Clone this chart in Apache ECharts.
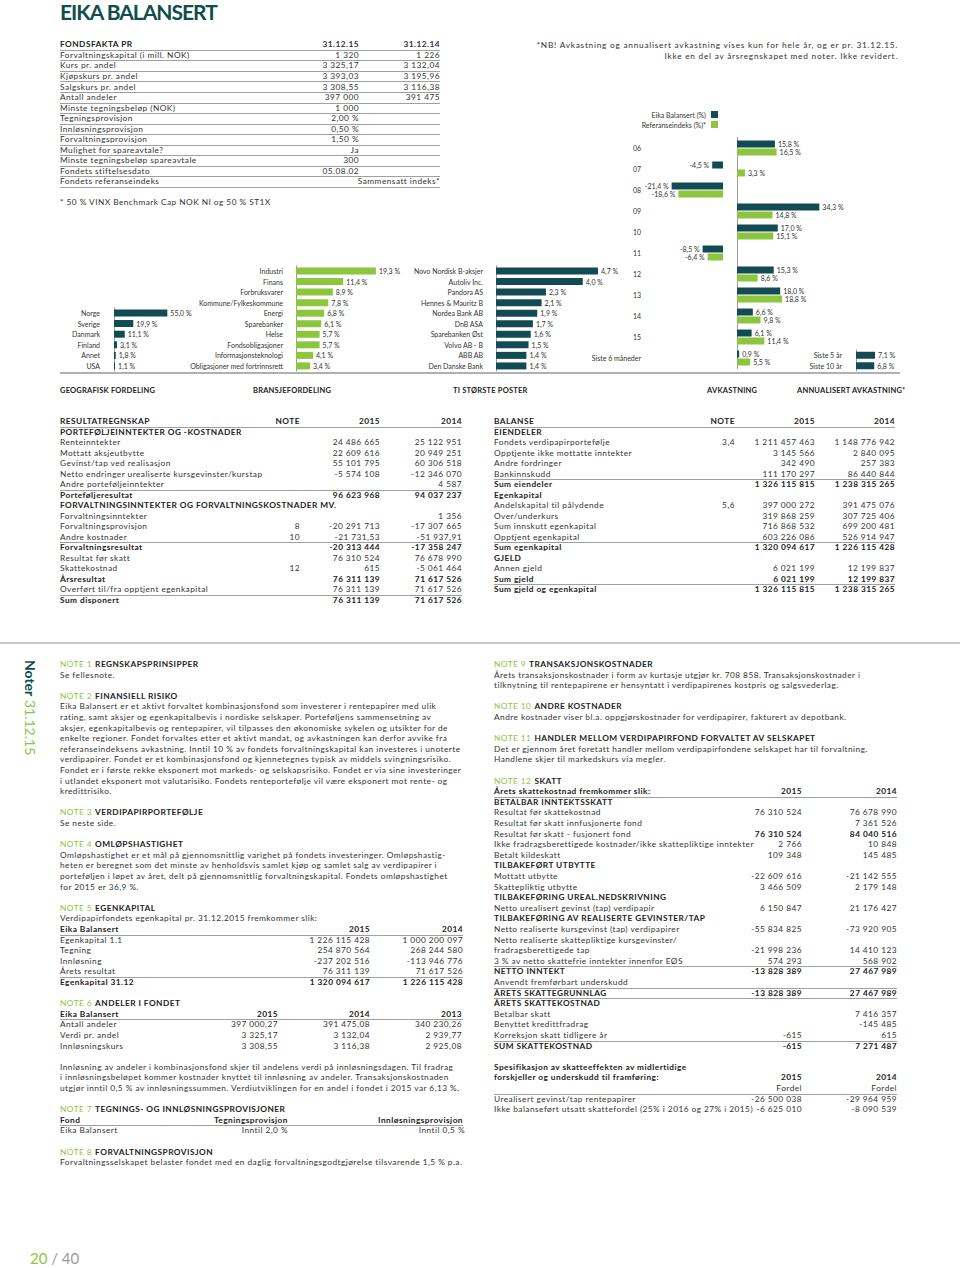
<!DOCTYPE html>
<html>
<head>
<meta charset="utf-8">
<script src="https://cdn.jsdelivr.net/npm/echarts/dist/echarts.min.js"></script>
<style>
  html, body { margin: 0; padding: 0; background: #fff; }
  #page { position: relative; width: 960px; height: 1268px; background: #fff; font-family: Lato, "Open Sans", sans-serif; color: #333; overflow: hidden; }
  #chart { position: absolute; left: 0; top: 0; width: 960px; height: 400px; }
  .t { position: absolute; white-space: nowrap; line-height: 10px; font-size: 8.3px; letter-spacing: 0.46px; }
  .ln { position: absolute; height: 1px; background: #a3a3a3; }
</style>
</head>
<body>
<div id="page">
  <div id="chart"></div>
</div>
<script>
  // ---- chart data ----
  const geoCats = ['Norge', 'Sverige', 'Danmark', 'Finland', 'Annet', 'USA'];
  const geoVals = [55.0, 19.9, 11.1, 3.1, 1.8, 1.1];

  const sectorCats = ['Industri', 'Finans', 'Forbruksvarer', 'Kommune/Fylkeskommune', 'Energi', 'Sparebanker',
    'Helse', 'Fondsobligasjoner', 'Informasjonsteknologi', 'Obligasjoner med fortrinnsrett'];
  const sectorVals = [19.3, 11.4, 8.9, 7.8, 6.8, 6.1, 5.7, 5.7, 4.1, 3.4];

  const topCats = ['Novo Nordisk B-aksjer', 'Autoliv Inc.', 'Pandora AS', 'Hennes & Mauritz B', 'Nordea Bank AB',
    'DnB ASA', 'Sparebanken Øst', 'Volvo AB - B', 'ABB AB', 'Den Danske Bank'];
  const topVals = [4.7, 4.0, 2.3, 2.1, 1.9, 1.7, 1.6, 1.5, 1.4, 1.4];

  const yearCats = ['06', '07', '08', '09', '10', '11', '12', '13', '14', '15', 'Siste 6 måneder'];
  const fundReturn = [15.8, -4.5, -21.4, 34.3, 17.0, -8.5, 15.3, 18.0, 6.6, 6.1, 0.9];
  const indexReturn = [16.5, 3.3, -18.6, 14.8, 15.1, -6.4, 8.6, 18.8, 9.8, 11.4, 5.5];

  const annualCats = ['Siste 5 år', 'Siste 10 år'];
  const annualVals = [7.1, 6.8];

  const DARK = '#134b55';
  const GREEN = '#8cc63f';
  const FONT = 'Lato';

  // ---- tables / text ----
  const factRows = [
    ['b', 'FONDSFAKTA PR', '31.12.15', '31.12.14'],
    ['', 'Forvaltningskapital (i mill. NOK)', '1 320', '1 226'],
    ['', 'Kurs pr. andel', '3 325,17', '3 132,04'],
    ['', 'Kjøpskurs pr. andel', '3 393,03', '3 195,96'],
    ['', 'Salgskurs pr. andel', '3 308,55', '3 116,38'],
    ['', 'Antall andeler', '397 000', '391 475'],
    ['', 'Minste tegningsbeløp (NOK)', '1 000', ''],
    ['', 'Tegningsprovisjon', '2,00 %', ''],
    ['', 'Innløsningsprovisjon', '0,50 %', ''],
    ['', 'Forvaltningsprovisjon', '1,50 %', ''],
    ['', 'Mulighet for spareavtale?', 'Ja', ''],
    ['', 'Minste tegningsbeløp spareavtale', '300', ''],
    ['', 'Fondets stiftelsesdato', '05.08.02', ''],
    ['', 'Fondets referanseindeks', '', 'Sammensatt indeks*']
  ];

  const resultRows = [
    ['bu', 'RESULTATREGNSKAP', 'NOTE', '2015', '2014'],
    ['b', 'PORTEFØLJEINNTEKTER OG -KOSTNADER', '', '', ''],
    ['', 'Renteinntekter', '', '24 486 665', '25 122 951'],
    ['', 'Mottatt aksjeutbytte', '', '22 609 616', '20 949 251'],
    ['', 'Gevinst/tap ved realisasjon', '', '55 101 795', '60 306 518'],
    ['', 'Netto endringer urealiserte kursgevinster/kurstap', '', '-5 574 108', '-12 346 070'],
    ['', 'Andre porteføljeinntekter', '', '', '4 587'],
    ['bo', 'Porteføljeresultat', '', '96 623 968', '94 037 237'],
    ['b', 'FORVALTNINGSINNTEKTER OG FORVALTNINGSKOSTNADER MV.', '', '', ''],
    ['', 'Forvaltningsinntekter', '', '', '1 356'],
    ['', 'Forvaltningsprovisjon', '8', '-20 291 713', '-17 307 665'],
    ['', 'Andre kostnader', '10', '-21 731,53', '-51 937,91'],
    ['bo', 'Forvaltningsresultat', '', '-20 313 444', '-17 358 247'],
    ['', 'Resultat før skatt', '', '76 310 524', '76 678 990'],
    ['', 'Skattekostnad', '12', '615', '-5 061 464'],
    ['b', 'Årsresultat', '', '76 311 139', '71 617 526'],
    ['', 'Overført til/fra opptjent egenkapital', '', '76 311 139', '71 617 526'],
    ['bo', 'Sum disponert', '', '76 311 139', '71 617 526']
  ];

  const balanceRows = [
    ['bu', 'BALANSE', 'NOTE', '2015', '2014'],
    ['b', 'EIENDELER', '', '', ''],
    ['', 'Fondets verdipapirportefølje', '3,4', '1 211 457 463', '1 148 776 942'],
    ['', 'Opptjente ikke mottatte inntekter', '', '3 145 566', '2 840 095'],
    ['', 'Andre fordringer', '', '342 490', '257 383'],
    ['', 'Bankinnskudd', '', '111 170 297', '86 440 844'],
    ['bo', 'Sum eiendeler', '', '1 326 115 815', '1 238 315 265'],
    ['b', 'Egenkapital', '', '', ''],
    ['', 'Andelskapital til pålydende', '5,6', '397 000 272', '391 475 076'],
    ['', 'Over/underkurs', '', '319 868 259', '307 725 406'],
    ['', 'Sum innskutt egenkapital', '', '716 868 532', '699 200 481'],
    ['', 'Opptjent egenkapital', '', '603 226 086', '526 914 947'],
    ['bo', 'Sum egenkapital', '', '1 320 094 617', '1 226 115 428'],
    ['b', 'GJELD', '', '', ''],
    ['', 'Annen gjeld', '', '6 021 199', '12 199 837'],
    ['b', 'Sum gjeld', '', '6 021 199', '12 199 837'],
    ['bo', 'Sum gjeld og egenkapital', '', '1 326 115 815', '1 238 315 265']
  ];

  const leftNotes = [
    ['N', '1', 'REGNSKAPSPRINSIPPER'],
    ['P', 'Se fellesnote.'],
    null,
    ['N', '2', 'FINANSIELL RISIKO'],
    ['P', 'Eika Balansert er et aktivt forvaltet kombinasjonsfond som investerer i rentepapirer med ulik'],
    ['P', 'rating, samt aksjer og egenkapitalbevis  i nordiske selskaper. Porteføljens sammensetning av'],
    ['P', 'aksjer, egenkapitalbevis og rentepapirer, vil tilpasses den økonomiske sykelen og utsikter for de'],
    ['P', 'enkelte regioner. Fondet forvaltes etter et aktivt mandat, og avkastningen kan derfor avvike fra'],
    ['P', 'referanseindeksens avkastning. Inntil 10 % av fondets forvaltningskapital kan investeres i unoterte'],
    ['P', 'verdipapirer. Fondet er et kombinasjonsfond og kjennetegnes typisk av middels svingningsrisiko.'],
    ['P', 'Fondet er i første rekke eksponert mot markeds- og selskapsrisiko. Fondet er via sine investeringer'],
    ['P', 'i utlandet eksponert mot valutarisiko. Fondets renteportefølje vil være eksponert mot rente- og'],
    ['P', 'kredittrisiko.'],
    null,
    ['N', '3', 'VERDIPAPIRPORTEFØLJE'],
    ['P', 'Se neste side.'],
    null,
    ['N', '4', 'OMLØPSHASTIGHET'],
    ['P', 'Omløpshastighet er et mål på gjennomsnittlig varighet på fondets investeringer. Omløpshastig-'],
    ['P', 'heten er beregnet som det minste av henholdsvis samlet kjøp og samlet salg av verdipapirer i'],
    ['P', 'porteføljen i løpet av året, delt på gjennomsnittlig forvaltningskapital. Fondets omløpshastighet'],
    ['P', 'for 2015 er 36,9 %.'],
    null,
    ['N', '5', 'EGENKAPITAL'],
    ['P', 'Verdipapirfondets egenkapital pr. 31.12.2015 fremkommer slik:'],
    ['R', [370, 463], 'bu', 'Eika Balansert', '2015', '2014'],
    ['R', [370, 463], '', 'Egenkapital 1.1', '1 226 115 428', '1 000 200 097'],
    ['R', [370, 463], '', 'Tegning', '254 870 564', '268 244 580'],
    ['R', [370, 463], '', 'Innløsning', '-237 202 516', '-113 946 776'],
    ['R', [370, 463], '', 'Årets resultat', '76 311 139', '71 617 526'],
    ['R', [370, 463], 'bo', 'Egenkapital 31.12', '1 320 094 617', '1 226 115 428'],
    null,
    ['N', '6', 'ANDELER I FONDET'],
    ['R', [278, 370, 462], 'bu', 'Eika Balansert', '2015', '2014', '2013'],
    ['R', [278, 370, 462], '', 'Antall andeler', '397 000,27', '391 475,08', '340 230,26'],
    ['R', [278, 370, 462], '', 'Verdi pr. andel', '3 325,17', '3 132,04', '2 939,77'],
    ['R', [278, 370, 462], '', 'Innløsningskurs', '3 308,55', '3 116,38', '2 925,08'],
    null,
    ['P', 'Innløsning av andeler i kombinasjonsfond skjer til andelens verdi på innløsningsdagen. Til fradrag'],
    ['P', 'i innløsningsbeløpet kommer kostnader knyttet til innløsning av andeler. Transaksjonskostnaden'],
    ['P', 'utgjør inntil 0,5 % av innløsningssummen. Verdiutviklingen for en andel i fondet i 2015 var 6,13 %.'],
    null,
    ['N', '7', 'TEGNINGS- OG INNLØSNINGSPROVISJONER'],
    ['R', [288, 463], 'bu', 'Fond', 'Tegningsprovisjon', 'Innløsningsprovisjon'],
    ['R', [288, 465], '', 'Eika Balansert', 'Inntil 2,0 %', 'Inntil 0,5 %'],
    null,
    ['N', '8', 'FORVALTNINGSPROVISJON'],
    ['P', 'Forvaltningsselskapet belaster fondet med en daglig forvaltningsgodtgjørelse tilsvarende 1,5 % p.a.']
  ];

  const T12 = [802, 897];
  const rightNotes = [
    ['N', '9', 'TRANSAKSJONSKOSTNADER'],
    ['P', 'Årets transaksjonskostnader i form av kurtasje  utgjør kr. 708 858. Transaksjonskostnader i'],
    ['P', 'tilknytning til rentepapirene er hensyntatt i verdipapirenes kostpris og salgsvederlag.'],
    null,
    ['N', '10', 'ANDRE KOSTNADER'],
    ['P', 'Andre kostnader viser bl.a. oppgjørskostnader for verdipapirer, fakturert av depotbank.'],
    null,
    ['N', '11', 'HANDLER MELLOM VERDIPAPIRFOND FORVALTET AV SELSKAPET'],
    ['P', 'Det er gjennom året foretatt handler mellom verdipapirfondene selskapet har til forvaltning.'],
    ['P', 'Handlene skjer til markedskurs via megler.'],
    null,
    ['N', '12', 'SKATT'],
    ['R', T12, 'bu', 'Årets skattekostnad fremkommer slik:', '2015', '2014'],
    ['R', T12, 'b', 'BETALBAR INNTEKTSSKATT', '', ''],
    ['R', T12, '', 'Resultat før skattekostnad', '76 310 524', '76 678 990'],
    ['R', T12, '', 'Resultat før skatt innfusjonerte fond', '', '7 361 526'],
    ['R', T12, 'v', 'Resultat før skatt - fusjonert fond', '76 310 524', '84 040 516'],
    ['R', T12, '', 'Ikke fradragsberettigede kostnader/ikke skattepliktige inntekter', '2 766', '10 848'],
    ['R', T12, '', 'Betalt kildeskatt', '109 348', '145 485'],
    ['R', T12, 'b', 'TILBAKEFØRT UTBYTTE', '', ''],
    ['R', T12, '', 'Mottatt utbytte', '-22 609 616', '-21 142 555'],
    ['R', T12, '', 'Skattepliktig utbytte', '3 466 509', '2 179 148'],
    ['R', T12, 'b', 'TILBAKEFØRING UREAL.NEDSKRIVNING', '', ''],
    ['R', T12, '', 'Netto urealisert gevinst (tap) verdipapir', '6 150 847', '21 176 427'],
    ['R', T12, 'b', 'TILBAKEFØRING AV REALISERTE GEVINSTER/TAP', '', ''],
    ['R', T12, '', 'Netto realiserte kursgevinst (tap) verdipapirer', '-55 834 825', '-73 920 905'],
    ['R', T12, '', 'Netto realiserte skattepliktige kursgevinster/', '', ''],
    ['R', T12, '', 'fradragsberettigede tap', '-21 998 236', '14 410 123'],
    ['R', T12, '', '3 % av netto skattefrie inntekter innenfor EØS', '574 293', '568 902'],
    ['R', T12, 'bo', 'NETTO INNTEKT', '-13 828 389', '27 467 989'],
    ['R', T12, '', 'Anvendt fremførbart underskudd', '', ''],
    ['R', T12, 'bo', 'ÅRETS SKATTEGRUNNLAG', '-13 828 389', '27 467 989'],
    ['R', T12, 'bo', 'ÅRETS SKATTEKOSTNAD', '', ''],
    ['R', T12, '', 'Betalbar skatt', '', '7 416 357'],
    ['R', T12, '', 'Benyttet kredittfradrag', '', '-145 485'],
    ['R', T12, '', 'Korreksjon skatt tidligere år', '-615', '615'],
    ['R', T12, 'bo', 'SUM SKATTEKOSTNAD', '-615', '7 271 487'],
    null,
    ['R', T12, 'b', 'Spesifikasjon av skatteeffekten av midlertidige', '', ''],
    ['R', T12, 'b', 'forskjeller og underskudd til framføring:', '2015', '2014'],
    ['R', T12, 'u', '', 'Fordel', 'Fordel'],
    ['R', T12, '', 'Urealisert gevinst/tap rentepapirer', '-26 500 038', '-29 964 959'],
    ['R', T12, '', 'Ikke balanseført utsatt skattefordel (25% i 2016 og 27% i 2015)', '-6 625 010', '-8 090 539']
  ];

  // ---- html helpers ----
  const page = document.getElementById('page');
  const baseCache = {};
  // distance from the top of a .t box to its text baseline
  function baseOffset(fs, bold) {
    const key = fs + '|' + (bold ? 1 : 0);
    if (baseCache[key] === undefined) {
      const d = document.createElement('div');
      d.className = 't';
      d.style.top = '0px';
      d.style.fontSize = fs + 'px';
      if (bold) d.style.fontWeight = 'bold';
      d.innerHTML = 'Hg<span style="display:inline-block;width:0;height:0"></span>';
      page.appendChild(d);
      baseCache[key] = d.lastChild.offsetTop;
      page.removeChild(d);
    }
    return baseCache[key];
  }
  // x = left (or right edge if o.right), b = baseline
  function put(x, b, text, o) {
    o = o || {};
    const fs = o.fs || 8.3;
    const d = document.createElement('div');
    d.className = 't';
    d.textContent = text;
    d.style.left = x + 'px';
    d.style.top = (b - baseOffset(fs, o.bold)) + 'px';
    if (o.fs) d.style.fontSize = o.fs + 'px';
    if (o.bold) d.style.fontWeight = 'bold';
    if (o.color) d.style.color = o.color;
    if (o.ls !== undefined) d.style.letterSpacing = o.ls + 'px';
    if (o.right) d.style.transform = 'translateX(-100%)';
    page.appendChild(d);
    return d;
  }
  function hline(x0, x1, y, color, h) {
    const d = document.createElement('div');
    d.className = 'ln';
    d.style.left = x0 + 'px';
    d.style.width = (x1 - x0) + 'px';
    d.style.top = y + 'px';
    d.style.height = (h || 1) + 'px';
    if (color) d.style.background = color;
    page.appendChild(d);
  }
  function rule(x0, x1, y) {
    hline(x0, x1, y, '#a0a0a0', 1);
  }
  function row(x0, x1, b, cols, flags, cells) {
    const bold = flags.indexOf('b') >= 0;
    const boldVals = bold || flags.indexOf('v') >= 0;
    put(x0, b, cells[0], { bold: bold, color: bold ? '#222' : '#333' });
    for (let i = 1; i < cells.length; i++) {
      if (cells[i] !== '') put(cols[i - 1], b, cells[i], { bold: boldVals, right: true, color: boldVals ? '#222' : '#333' });
    }
    if (flags.indexOf('u') >= 0) rule(x0, x1, Math.round(b + 2.5));
    if (flags.indexOf('o') >= 0) rule(x0, x1, Math.round(b - 8.0));
  }
  function table(x0, x1, b0, step, cols, rows) {
    rows.forEach(function (r, i) { row(x0, x1, b0 + i * step, cols, r[0], r.slice(1)); });
  }
  function flow(x0, x1, b0, step, items) {
    items.forEach(function (it, i) {
      const b = b0 + i * step;
      if (!it) return;
      if (it[0] === 'N') {
        const a = put(x0, b, 'NOTE ' + it[1], { color: GREEN });
        const w = a.getBoundingClientRect().width;
        put(x0 + w + 3, b, it[2], { bold: true, color: '#222' });
      } else if (it[0] === 'P') {
        put(x0, b, it[1]);
      } else {
        row(x0, x1, b, it[1], it[2], it.slice(3));
      }
    });
  }

  // title
  put(60, 19.5, 'EIKA BALANSERT', { fs: 21, bold: true, color: '#0f4e4c', ls: -1.0 });

  // fondsfakta
  const factStep = 10.55;
  factRows.forEach(function (r, i) {
    const b = 47.3 + i * factStep;
    const bold = r[0] === 'b';
    put(60, b, r[1], { bold: bold, color: bold ? '#222' : '#333' });
    if (r[2]) put(359, b, r[2], { bold: bold, right: true });
    if (r[3]) put(440, b, r[3], { bold: bold, right: true });
    rule(60, 440, Math.round(b + 2.5));
  });
  put(60, 204.5, '* 50 % VINX Benchmark Cap NOK NI og 50 % ST1X');

  put(898, 48, '*NB! Avkastning og annualisert avkastning vises kun for hele år, og er pr. 31.12.15.', { right: true, ls: 0.75 });
  put(898, 58.5, 'Ikke en del av årsregnskapet med noter. Ikke revidert.', { right: true, ls: 0.75 });

  // chart baseline + section titles
  hline(60, 900, 372, '#b0b0b0', 2);
  const secTitles = [[60, 'GEOGRAFISK FORDELING'], [253, 'BRANSJEFORDELING'], [453, 'TI STØRSTE POSTER'],
    [707, 'AVKASTNING'], [797, 'ANNUALISERT AVKASTNING*']];
  secTitles.forEach(function (s) { put(s[0], 393, s[1], { fs: 7.5, bold: true, color: '#222', ls: 0.2 }); });

  // statements
  table(60, 462, 424, 10.5, [300, 380, 462], resultRows);
  table(494, 895, 424, 10.5, [735, 815, 895], balanceRows);

  hline(0, 960, 642, '#c8c8c8', 2);

  // notes
  flow(60, 463, 667, 10.6, leftNotes);
  flow(494, 897, 667, 10.6, rightNotes);

  // vertical header
  const vh = document.createElement('div');
  vh.style.cssText = 'position:absolute;left:38px;top:660px;transform-origin:0 0;transform:rotate(90deg);white-space:nowrap;font-size:14px;line-height:15px;';
  vh.innerHTML = '<span style="font-weight:bold;color:#0f4e4c">Noter</span> <span style="color:' + GREEN + '">31.12.15</span>';
  page.appendChild(vh);

  // page number
  const pn = document.createElement('div');
  pn.style.cssText = 'position:absolute;left:30px;top:1250px;font-size:15px;line-height:16px;color:#9a9a9a;';
  pn.innerHTML = '<span style="color:' + GREEN + '">20</span> / 40';
  page.appendChild(pn);

  // ---- chart ----
  const myChart = echarts.init(document.getElementById('chart'), null, { renderer: 'svg' });
  const pct = function (v) { return v.toFixed(1).replace('.', ',') + ' %'; };
  const labelStyle = { show: true, position: 'right', distance: 3, fontSize: 7, color: '#333', fontFamily: FONT,
    formatter: function (p) { return pct(p.value); } };
  const axisLine = { show: true, lineStyle: { color: '#9c9c9c', width: 1 } };
  function catAxis(grid, data, offset, margin, show) {
    return {
      type: 'category', gridIndex: grid, data: data, inverse: true, offset: offset,
      show: show !== false, axisLine: axisLine, axisTick: { show: false },
      axisLabel: { margin: margin, fontSize: 7, color: '#333', fontFamily: FONT }
    };
  }
  function valAxis(grid, min, max) {
    return { type: 'value', gridIndex: grid, min: min, max: max, show: false };
  }
  const posOnly = function (arr) { return arr.map(function (v) { return v >= 0 ? v : '-'; }); };
  const negOnly = function (arr) { return arr.map(function (v) { return v < 0 ? v : '-'; }); };

  const option = {
    animation: false,
    textStyle: { fontFamily: FONT },
    grid: [
      { left: 114, top: 307.7, width: 97, height: 63.6 },
      { left: 296, top: 265.7, width: 124.2, height: 105.5 },
      { left: 496, top: 265.7, width: 217, height: 105.5 },
      { left: 651, top: 137.5, width: 72, height: 231 },
      { left: 737, top: 137.5, width: 96, height: 231 },
      { left: 856, top: 350, width: 26.8, height: 21 }
    ],
    xAxis: [valAxis(0, 0, 100), valAxis(1, 0, 30), valAxis(2, 0, 10), valAxis(3, -30, 0), valAxis(4, 0, 40), valAxis(5, 0, 10)],
    yAxis: [
      catAxis(0, geoCats, 8, 6),
      catAxis(1, sectorCats, 2, 11),
      catAxis(2, topCats, 7, 6),
      catAxis(3, yearCats, 0, 0, false),
      catAxis(4, yearCats, 8, 88),
      catAxis(5, annualCats, 7, 7)
    ],
    legend: {
      data: ['Eika Balansert (%)', 'Referanseindeks (%)*'],
      orient: 'vertical', align: 'right', right: 237, top: 106,
      itemWidth: 7, itemHeight: 7, itemGap: 3, icon: 'rect', selectedMode: false,
      textStyle: { fontSize: 7, color: '#333', fontFamily: FONT }
    },
    series: [
      { type: 'bar', name: 'Geografisk', xAxisIndex: 0, yAxisIndex: 0, data: geoVals, barWidth: 7,
        itemStyle: { color: DARK }, label: labelStyle },
      { type: 'bar', name: 'Bransje', xAxisIndex: 1, yAxisIndex: 1, data: sectorVals, barWidth: 7,
        itemStyle: { color: GREEN }, label: labelStyle },
      { type: 'bar', name: 'Ti største', xAxisIndex: 2, yAxisIndex: 2, data: topVals, barWidth: 7,
        itemStyle: { color: DARK }, label: labelStyle },
      { type: 'bar', name: 'Eika Balansert (%)', xAxisIndex: 3, yAxisIndex: 3, data: negOnly(fundReturn), barWidth: 7, barGap: '14%',
        itemStyle: { color: DARK }, label: Object.assign({}, labelStyle, { position: 'left' }) },
      { type: 'bar', name: 'Referanseindeks (%)*', xAxisIndex: 3, yAxisIndex: 3, data: negOnly(indexReturn), barWidth: 7, barGap: '14%',
        itemStyle: { color: GREEN }, label: Object.assign({}, labelStyle, { position: 'left' }) },
      { type: 'bar', name: 'Eika Balansert (%)', xAxisIndex: 4, yAxisIndex: 4, data: posOnly(fundReturn), barWidth: 7, barGap: '14%',
        itemStyle: { color: DARK }, label: labelStyle },
      { type: 'bar', name: 'Referanseindeks (%)*', xAxisIndex: 4, yAxisIndex: 4, data: posOnly(indexReturn), barWidth: 7, barGap: '14%',
        itemStyle: { color: GREEN }, label: labelStyle },
      { type: 'bar', name: 'Annualisert', xAxisIndex: 5, yAxisIndex: 5, data: annualVals, barWidth: 7,
        itemStyle: { color: DARK }, label: labelStyle }
    ]
  };
  myChart.setOption(option);
</script>
</body>
</html>
